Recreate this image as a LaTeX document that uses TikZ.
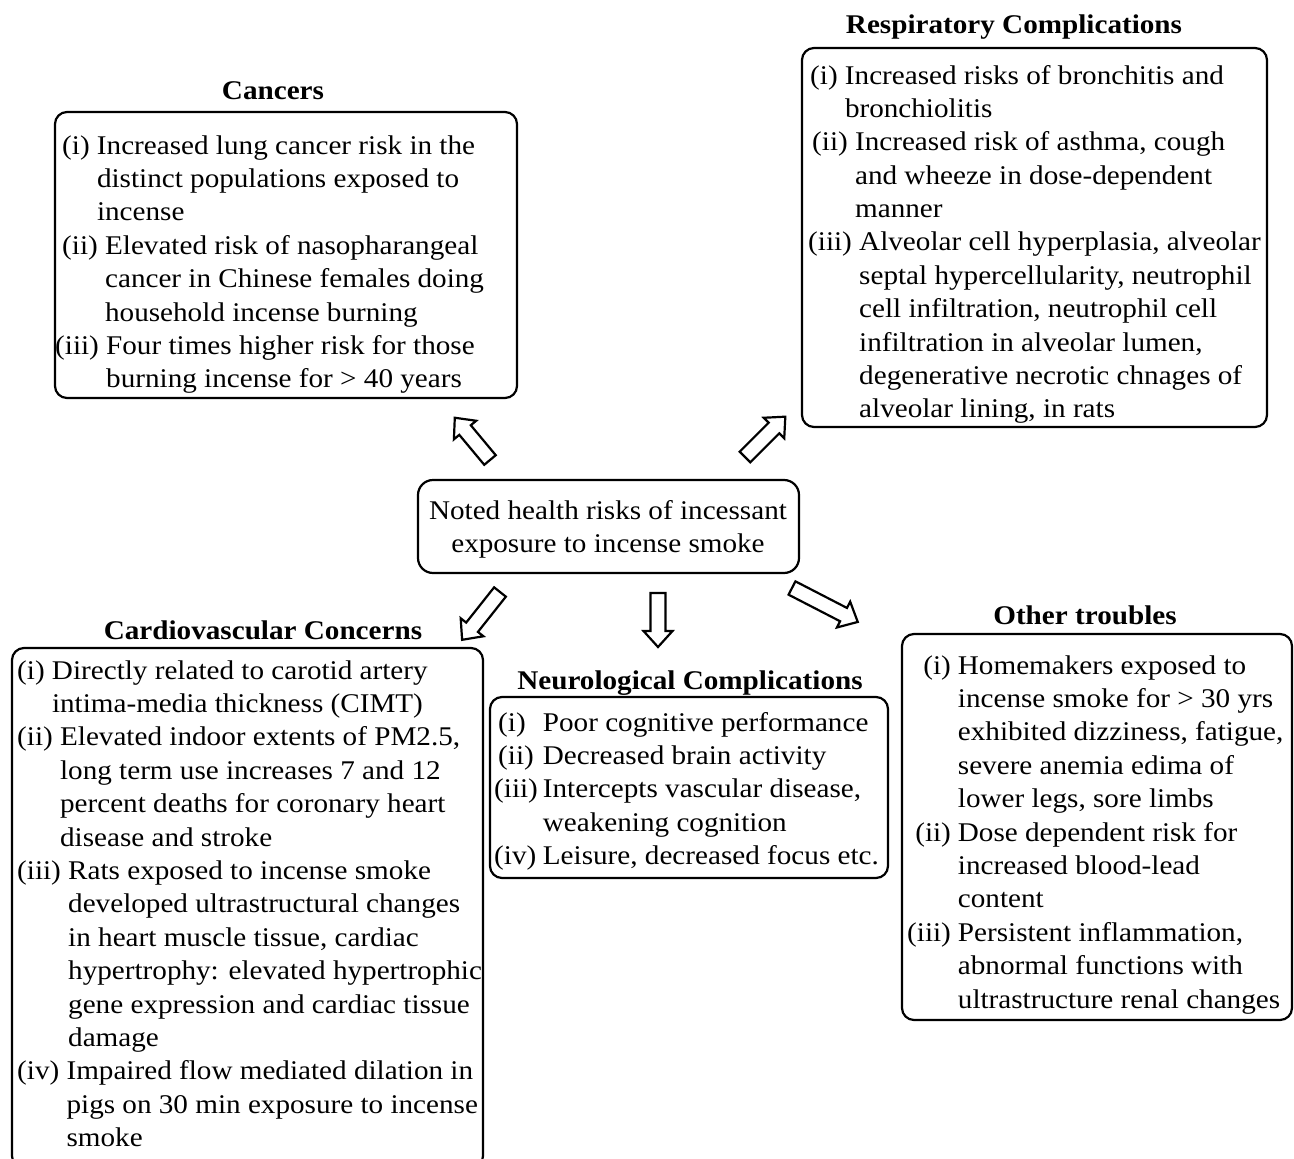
\documentclass[tikz,border=0pt]{standalone}
\usepackage{fontspec}
\setmainfont{Liberation Serif}[FakeStretch=1.08]
\usetikzlibrary{calc}
\newcommand\dgfont{\fontsize{27}{33.4}\selectfont}
\newcommand\blockarrow[3]{%
  \draw[arrowline, shift={(#1)}, rotate=#2]
    (0,-7.5) -- ({#3-16},-7.5) -- ({#3-16},-14.5) -- (#3,0) --
    ({#3-16},14.5) -- ({#3-16},7.5) -- (0,7.5) -- cycle;}
\tikzset{
  box/.style={draw=black, line width=2.2pt, rounded corners=12pt, inner sep=0pt},
  ttl/.style={font=\dgfont\bfseries, anchor=base, inner sep=0pt},
  body/.style={font=\dgfont, anchor=base west, inner sep=0pt},
  arrowline/.style={draw=black, line width=2.2pt, fill=white, line join=miter},
}
\begin{document}
\begin{tikzpicture}[x=1pt,y=-1pt]
\fill[white] (0,0) rectangle (1294,1159);
\useasboundingbox (0,0) rectangle (1294,1159);

% ---------- Cancers ----------
\node[ttl] (cantitle) at (273,99) {Cancers};
\node[box, minimum width=462pt, minimum height=286pt] (canbox) at (286,255) {};
\node[body] (cantext) at (62,154) {\begin{tabular}[t]{@{}l@{}}
(i)\ Increased lung cancer risk in the\\
\phantom{(i)\ }distinct populations exposed to\\
\phantom{(i)\ }incense\\
(ii)\ Elevated risk of nasopharangeal\\
\phantom{(ii)\ }cancer in Chinese females doing\\
\phantom{(ii)\ }household incense burning\\
\hspace*{-7pt}(iii)\ Four times higher risk for those\\
\hspace*{-7pt}\phantom{(iii)\ }burning incense for > 40 years
\end{tabular}};

% ---------- Respiratory ----------
\node[ttl] (restitle) at (1014,33) {Respiratory Complications};
\node[box, minimum width=465pt, minimum height=379pt] (resbox) at (1034.5,237.5) {};
\node[body] (restext) at (808,84) {\begin{tabular}[t]{@{}l@{}}
\hspace*{2pt}(i)\ Increased risks of bronchitis and\\
\hspace*{2pt}\phantom{(i)\ }bronchiolitis\\
\hspace*{4pt}(ii)\ Increased risk of asthma, cough\\
\hspace*{4pt}\phantom{(ii)\ }and wheeze in dose-dependent\\
\hspace*{4pt}\phantom{(ii)\ }manner\\
(iii)\ Alveolar cell hyperplasia, alveolar\\
\phantom{(iii)\ }septal hypercellularity, neutrophil\\
\phantom{(iii)\ }cell infiltration, neutrophil cell\\
\phantom{(iii)\ }infiltration in alveolar lumen,\\
\phantom{(iii)\ }degenerative necrotic chnages of\\
\phantom{(iii)\ }alveolar lining, in rats
\end{tabular}};

% ---------- Central ----------
\node[box, rounded corners=15pt, minimum width=381pt, minimum height=93pt] (center) at (608.5,526.5) {};
\node[body, anchor=base] (centertext) at (608,519) {\begin{tabular}[t]{@{}c@{}}
Noted health risks of incessant\\
exposure to incense smoke
\end{tabular}};

% ---------- Cardiovascular ----------
\node[ttl] (cartitle) at (263,639) {Cardiovascular Concerns};
\node[box, minimum width=471pt, minimum height=520pt] (carbox) at (247.5,908) {};
\node[body] (cartext) at (17,679) {\begin{tabular}[t]{@{}l@{}}
(i)\ Directly related to carotid artery\\
\phantom{(i)\ }intima-media thickness (CIMT)\\
(ii)\ Elevated indoor extents of PM2.5,\\
\phantom{(ii)\ }long term use increases 7 and 12\\
\phantom{(ii)\ }percent deaths for coronary heart\\
\phantom{(ii)\ }disease and stroke\\
(iii)\ Rats exposed to incense smoke\\
\phantom{(iii)\ }developed ultrastructural changes\\
\phantom{(iii)\ }in heart muscle tissue, cardiac\\
\phantom{(iii)\ }hypertrophy: elevated hypertrophic\\
\phantom{(iii)\ }gene expression and cardiac tissue\\
\phantom{(iii)\ }damage\\
(iv)\ Impaired flow mediated dilation in\\
\phantom{(iv)\ }pigs on 30 min exposure to incense\\
\phantom{(iv)\ }smoke
\end{tabular}};

% ---------- Neurological ----------
\node[ttl] (neutitle) at (690,689) {Neurological Complications};
\node[box, minimum width=398pt, minimum height=181pt] (neubox) at (689,787.5) {};
\node[body] (neutext) at (494,731) {\begin{tabular}[t]{@{}l@{\hspace{5pt}}l@{}}
\hspace*{4pt}(i) & Poor cognitive performance\\
\hspace*{4pt}(ii) & Decreased brain activity\\
(iii) & Intercepts vascular disease,\\
 & weakening cognition\\
(iv) & Leisure, decreased focus etc.
\end{tabular}};

% ---------- Other troubles ----------
\node[ttl] (othtitle) at (1085,624) {Other troubles};
\node[box, minimum width=390pt, minimum height=386pt] (othbox) at (1097,827) {};
\node[body] (othtext) at (907,674) {\begin{tabular}[t]{@{}r@{\hspace{7pt}}l@{}}
(i) & Homemakers exposed to\\
 & incense smoke for > 30 yrs\\
 & exhibited dizziness, fatigue,\\
 & severe anemia edima of\\
 & lower legs, sore limbs\\
(ii) & Dose dependent risk for\\
 & increased blood-lead\\
 & content\\
(iii) & Persistent inflammation,\\
 & abnormal functions with\\
 & ultrastructure renal changes
\end{tabular}};

% ---------- Block arrows (tail points) ----------
\coordinate (t1) at (490,460);
\coordinate (t2) at (745,457);
\coordinate (t3) at (500,592);
\coordinate (t4) at (658,593);
\coordinate (t5) at (792,588);
\blockarrow{t1}{129.8}{55}
\blockarrow{t2}{45}{57}
\blockarrow{t3}{231.6}{61}
\blockarrow{t4}{270}{54}
\blockarrow{t5}{-27.3}{74}
\end{tikzpicture}
\end{document}
